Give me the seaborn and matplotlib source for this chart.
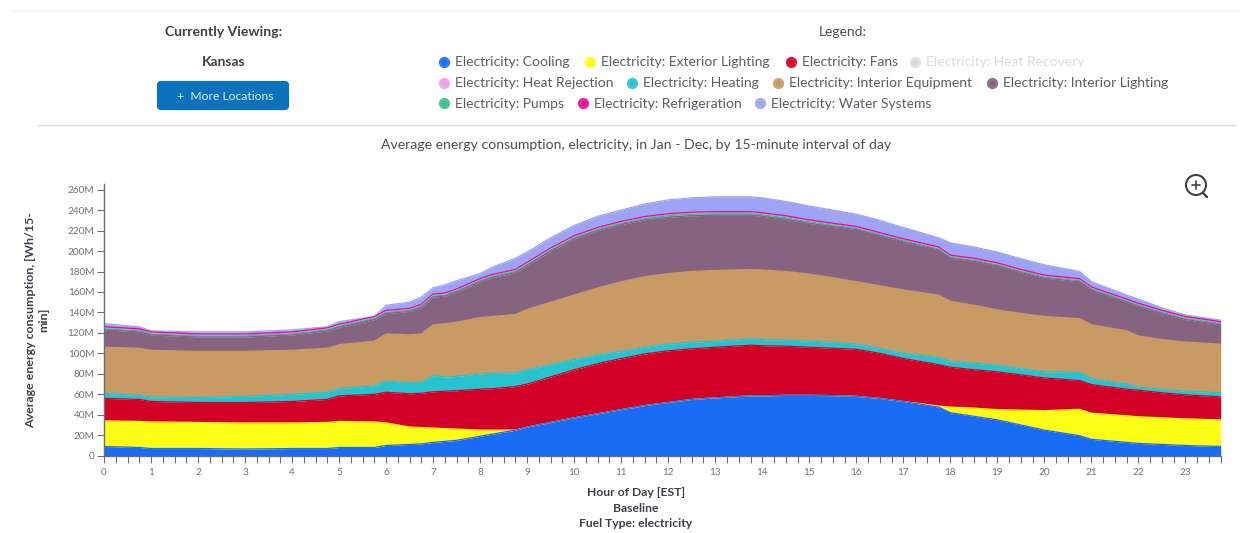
import numpy as np
import pandas as pd
import matplotlib.pyplot as plt
import seaborn as sns
from matplotlib.patches import Circle, FancyBboxPatch

# values, millions of Wh per 15 min
hours = [0, 0.75, 1, 2, 3, 4, 4.75, 5, 5.75, 6, 6.5, 6.75, 7, 7.25, 7.5, 8, 8.25, 8.75, 9, 9.5, 10, 10.5,
         11, 11.5, 12, 12.5, 13, 13.75, 14, 14.5, 15, 15.5, 16, 16.5, 17, 17.75, 18, 18.5, 19, 19.5, 20,
         20.75, 21, 21.75, 22, 22.5, 23, 23.75]

# top edge of each band in the stack
cooling_top = [9, 8, 7, 7, 6.5, 7, 7, 8, 8, 10, 11, 11.5, 13, 14, 15, 19, 21, 25, 28, 32.5, 37, 41,
               45, 49, 52, 55, 56.5, 58.5, 58.5, 59, 59, 58.7, 58, 56, 53, 47.5, 42, 38.5, 35, 30, 25,
               19.5, 16, 13, 12, 11, 10, 9]
exterior_top = [34, 33.5, 33, 32.5, 32, 32, 32.5, 33.5, 33, 32, 28, 27.5, 27, 26.5, 26, 25, 25, 25, 28, 32.5, 37, 41,
                45, 49, 52, 55, 56.5, 58.5, 58.5, 59, 59, 58.7, 58, 56, 53, 48.5, 47.5, 46.5, 45, 44.5, 44,
                45.3, 41.5, 39, 38, 37, 36, 35]
fans_top = [56, 55, 53, 52, 52, 53, 55, 58.5, 60, 62, 60.5, 61, 62.5, 63, 63.5, 65, 65.5, 67.5, 70, 77, 84, 90,
            95, 99.5, 102.5, 104.5, 106, 108, 107.5, 107, 106, 105, 104, 100, 95, 89, 86.5, 84, 82, 79, 76,
            73.5, 69.5, 65, 64, 61.5, 59.5, 57.5]
heating_top = [61, 59, 57.5, 57, 58, 60, 62, 65.5, 68.5, 73, 71.5, 71.5, 78, 77, 77.5, 80, 80.5, 81, 84, 89, 94, 98.5,
               102, 106, 109, 111, 112, 114, 113.5, 113, 112, 111, 109, 105, 100, 96, 92, 90.5, 88.5, 85, 82,
               81.5, 75, 70, 67, 65, 63, 61.5]
equipment_top = [106, 105, 103, 102, 102, 103, 105, 108.5, 112, 119, 118, 119, 128, 129, 130.5, 135, 136, 138, 143, 150, 157, 164,
                 170, 175, 178, 180, 181, 182, 181.5, 180, 177.5, 174, 170, 166, 162, 157, 151, 147, 142.5, 139, 136,
                 134, 128, 122, 117, 113.5, 111, 109]
lighting_top = [123, 121, 118, 116, 116, 118, 122, 125.5, 133, 139, 141, 145, 155, 156, 160, 170, 174, 179, 186, 200, 212, 220,
                226, 230.5, 233, 234.5, 235, 235, 234, 231, 227, 224, 221, 215, 209, 201, 193, 190, 185.5, 179, 173.5,
                170, 162, 150, 146, 139, 133, 128]
pumps_top = [124, 122, 119, 117, 117, 119, 123, 126.5, 134, 140, 142, 146, 156, 157, 161, 171, 175, 180, 187, 201, 213, 221,
             227, 231.7, 234.5, 236, 236.5, 236.5, 235.5, 232.5, 228.5, 225.2, 222, 216, 210, 202, 194, 191, 186.5, 180, 174.5,
             171, 163, 151, 147, 140, 134, 129]
rejection_top = [124.5, 122.5, 119.5, 117.5, 117.5, 119.5, 123.5, 127, 134.5, 140.5, 142.5, 146.5, 156.5, 157.5, 161.5, 171.5, 175.5, 180.5, 187.5, 201.5, 213.5, 221.5,
                 227.5, 232.2, 235, 236.5, 237, 237, 236, 233, 229, 225.7, 222.5, 216.5, 210.5, 202.5, 194.5, 191.5, 187, 180.5, 175,
                 171.5, 163.5, 151.5, 147.5, 140.5, 134.5, 129.5]
refrigeration_top = [126, 124, 121, 119, 119, 121, 125, 128.5, 136, 142, 144, 148, 158, 159, 163, 173, 177, 182, 189, 203, 215, 223,
                     229, 233.7, 236.5, 238, 238.5, 238.5, 237.5, 234.5, 230.5, 227.2, 224, 218, 212, 204, 196, 193, 188.5, 182, 176.5,
                     173, 165, 153, 149, 142, 136, 131]
water_top = [129, 126, 122, 121, 121, 123, 126, 131, 136, 147, 150, 155, 164, 167, 171, 178, 184, 193, 199, 213, 225, 234,
             240, 246, 250, 252, 253, 253, 252, 248.5, 244, 240, 236, 230, 223, 213, 208, 204, 199, 192.5, 186.5,
             180, 170, 157, 153, 144.5, 137.5, 132.5]

series_names = ['Cooling', 'Exterior Lighting', 'Fans', 'Heating', 'Interior Equipment', 'Interior Lighting',
                'Pumps', 'Heat Rejection', 'Refrigeration', 'Water Systems']
series_tops = [cooling_top, exterior_top, fans_top, heating_top, equipment_top, lighting_top,
               pumps_top, rejection_top, refrigeration_top, water_top]

colors = {
    'Cooling': '#1a6cf6',
    'Exterior Lighting': '#fdfd16',
    'Fans': '#d30027',
    'Heat Recovery': '#c9c9c9',
    'Heat Rejection': '#e8a2ee',
    'Heating': '#27c3cf',
    'Interior Equipment': '#c99a63',
    'Interior Lighting': '#866381',
    'Pumps': '#3cc08c',
    'Refrigeration': '#dd0f9c',
    'Water Systems': '#9ea4f3',
}

# legend rows: name, marker x, in px
legend_rows = [
    [('Cooling', 444), ('Exterior Lighting', 590), ('Fans', 791), ('Heat Recovery', 915)],
    [('Heat Rejection', 444), ('Heating', 632), ('Interior Equipment', 778), ('Interior Lighting', 992)],
    [('Pumps', 444), ('Refrigeration', 583), ('Water Systems', 760)],
]
legend_row_y = [62, 82.5, 103]

sns.set_style('ticks')
plt.rcParams['font.family'] = ['Lato', 'DejaVu Sans']

W, H = 1248, 533
fig = plt.figure(figsize=(W / 100, H / 100), dpi=100)

# page furniture, in pixel coordinates
ui = fig.add_axes([0, 0, 1, 1], zorder=0)
ui.set_xlim(0, W)
ui.set_ylim(H, 0)
ui.axis('off')

ui.plot([10, 1240], [10.5, 10.5], color='#f2f2f2', lw=1)
ui.plot([38, 1235], [125, 125], color='#dcdcdc', lw=1)

text_col = '#4a4f57'
ui.text(223.5, 32.5, 'Currently Viewing:', ha='center', va='center', fontsize=10.1, fontweight='bold', color='#3c4048')
ui.text(223.5, 62, 'Kansas', ha='center', va='center', fontsize=10, fontweight='bold', color='#3c4048')
ui.add_patch(FancyBboxPatch((159, 83), 128, 25, boxstyle='round,pad=0,rounding_size=2',
                            fc='#0a72bd', ec='#0a72bd', lw=3))
ui.text(225, 96, '+  More Locations', ha='center', va='center', fontsize=8.7, color='#d9ecf7')
ui.text(843, 32.5, 'Legend:', ha='center', va='center', fontsize=10, color=text_col)
ui.text(636, 145, 'Average energy consumption, electricity, in Jan - Dec, by 15-minute interval of day',
        ha='center', va='center', fontsize=10.05, color=text_col)

for row, y in zip(legend_rows, legend_row_y):
    for name, x in row:
        off = name == 'Heat Recovery'
        ui.scatter([x], [y], s=66, color=colors[name], linewidths=0, alpha=0.55 if off else 0.9)
        ui.scatter([x], [y], s=14, color=colors[name], linewidths=0, alpha=0.5 if off else 1)
        ui.text(x + 11, y + 0.5, 'Electricity: ' + name, ha='left', va='center', fontsize=10,
                color='#dcdcdc' if off else '#5a5f66')

# zoom icon
ui.add_patch(Circle((1196, 185), 10, fc='none', ec='#3d4248', lw=1.5))
ui.plot([1203, 1207], [193, 197], color='#3d4248', lw=1.7)
ui.plot([1192, 1200], [185, 185], color='#3d4248', lw=1.2)
ui.plot([1196, 1196], [181, 189], color='#3d4248', lw=1.2)

# chart
ax = fig.add_axes([104 / W, 1 - 455.7 / H, (1220.7 - 104) / W, (455.7 - 183.5) / H], zorder=1)
ax.patch.set_alpha(0)

rows = []
for name, top in zip(series_names, series_tops):
    rows.append(pd.DataFrame({'hour': hours, 'top': top, 'series': name}))
df = pd.concat(rows, ignore_index=True)

prev = np.zeros(len(hours))
for name, top in zip(series_names, series_tops):
    ax.fill_between(hours, prev, top, color=colors[name], lw=0, zorder=1)
    prev = np.array(top)

# upper bands drawn first so the exterior lighting edge hides under cooling where it has no height
sns.lineplot(data=df, x='hour', y='top', hue='series', hue_order=series_names[::-1], palette=colors,
             legend=False, errorbar=None, linewidth=0.9, ax=ax, zorder=2)

ax.set_xlim(0, 23.75)
ax.set_ylim(0, 266)
ax.set_xticks(range(24))
ax.set_xticks(np.arange(0, 23.76, 0.25), minor=True)
ax.set_yticks(range(0, 261, 20))
ax.set_yticklabels(['0'] + [f'{v}M' for v in range(20, 261, 20)])

for side in ['top', 'right']:
    ax.spines[side].set_visible(False)
for side in ['left', 'bottom']:
    ax.spines[side].set_color('#6b7076')
    ax.spines[side].set_linewidth(1)

tick_col = '#6f7378'
ax.tick_params(axis='y', length=5, width=0.8, color=tick_col, labelcolor=tick_col, labelsize=7.2, pad=2)
ax.tick_params(axis='x', which='both', length=5, width=0.8, color=tick_col, labelcolor=tick_col,
               labelsize=7.2, pad=4)

ui.text(636, 508, 'Hour of Day [EST]\nBaseline\nFuel Type: electricity', ha='center', va='center',
        fontsize=8.75, fontweight='bold', color='#3c4048', linespacing=1.55)
ui.text(37, 320, 'Average energy consumption, [Wh/15-\nmin]', ha='center', va='center', rotation=90,
        fontsize=8.9, fontweight='bold', color='#3c4048', linespacing=1.25)
ax.set_xlabel('')
ax.set_ylabel('')

fig.savefig('out.png', dpi=100)
